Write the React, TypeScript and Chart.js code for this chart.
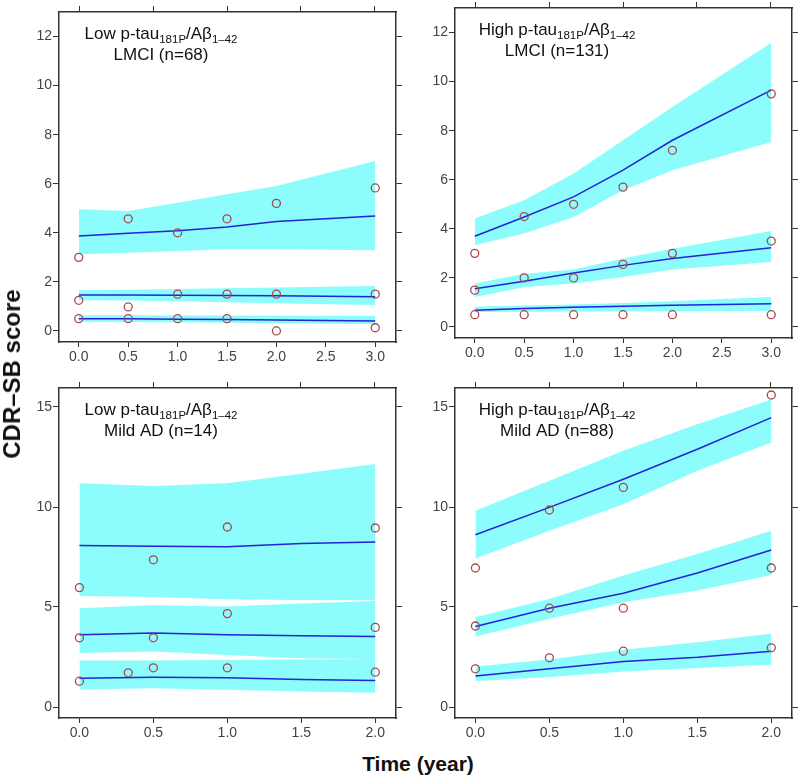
import React, { useEffect, useRef } from "react";
import { Chart, registerables } from "chart.js";
Chart.register(...registerables);

const FONT = '"Liberation Sans", Arial, sans-serif';
const CYAN = "#8cfcfc";
const LINE_COLOR = "#2424d4";
const POINT_COLOR = "#a84848";
const AXIS_COLOR = "#333333";

// Tick labels
const yTicksLMCI = [0, 2, 4, 6, 8, 10, 12];
const yTicksAD = [0, 5, 10, 15];
const xTicksLMCI = [0, 0.5, 1, 1.5, 2, 2.5, 3];
const xTicksAD = [0, 0.5, 1, 1.5, 2];
const topTicks = [0, 0.5, 1, 1.5, 2];

// Panel 1: Low p-tau / LMCI (n=68)
const p1Times = [0, 0.5, 1, 1.5, 2, 3];
const p1TopUp = [4.96, 4.89, 5.23, 5.57, 5.91, 6.93];
const p1TopLo = [3.13, 3.19, 3.26, 3.33, 3.33, 3.29];
const p1TopMid = [3.87, 3.98, 4.08, 4.24, 4.46, 4.69];
const p1MidUp = [1.66, 1.68, 1.71, 1.74, 1.77, 1.83];
const p1MidLo = [1.25, 1.24, 1.21, 1.17, 1.13, 1.06];
const p1MidMid = [1.47, 1.47, 1.46, 1.45, 1.43, 1.39];
const p1LowUp = [0.64, 0.64, 0.63, 0.63, 0.62, 0.61];
const p1LowLo = [0.38, 0.37, 0.35, 0.33, 0.31, 0.27];
const p1LowMid = [0.5, 0.5, 0.48, 0.47, 0.45, 0.41];
const p1ObsX = [0, 0, 0, 0.5, 0.5, 0.5, 1, 1, 1, 1.5, 1.5, 1.5, 2, 2, 2, 3, 3, 3];
const p1ObsY = [3.0, 1.25, 0.5, 4.57, 0.98, 0.5, 4.0, 1.5, 0.5, 4.57, 1.5, 0.5, 5.2, 1.5, 0.0, 5.83, 1.5, 0.13];

// Panel 2: High p-tau / LMCI (n=131)
const p2Times = [0, 0.5, 1, 1.5, 2, 3];
const p2TopUp = [4.42, 5.16, 6.25, 7.61, 8.97, 11.58];
const p2TopLo = [3.33, 3.81, 4.48, 5.57, 6.39, 7.54];
const p2TopMid = [3.7, 4.48, 5.3, 6.39, 7.61, 9.65];
const p2MidUp = [1.77, 2.17, 2.34, 2.79, 3.19, 3.91];
const p2MidLo = [1.22, 1.63, 1.77, 2.04, 2.34, 2.65];
const p2MidMid = [1.56, 1.86, 2.2, 2.51, 2.79, 3.23];
const p2LowUp = [0.82, 0.87, 0.92, 0.98, 1.05, 1.22];
const p2LowLo = [0.61, 0.62, 0.63, 0.63, 0.64, 0.65];
const p2LowMid = [0.68, 0.75, 0.8, 0.84, 0.88, 0.95];
const p2ObsX = [0, 0, 0, 0.5, 0.5, 0.5, 1, 1, 1, 1.5, 1.5, 1.5, 2, 2, 2, 3, 3, 3];
const p2ObsY = [3.0, 1.5, 0.5, 4.5, 2.0, 0.5, 5.0, 2.0, 0.5, 5.7, 2.55, 0.5, 7.2, 3.0, 0.5, 9.5, 3.5, 0.5];

// Panel 3: Low p-tau / Mild AD (n=14)
const p3Times = [0, 0.5, 1, 1.5, 2];
const p3TopUp = [11.19, 11.05, 11.19, 11.66, 12.15];
const p3TopLo = [5.55, 5.5, 5.39, 5.35, 5.34];
const p3TopMid = [8.07, 8.04, 8.01, 8.17, 8.25];
const p3MidUp = [4.94, 5.09, 5.02, 5.17, 5.3];
const p3MidLo = [2.7, 2.77, 2.6, 2.44, 2.4];
const p3MidMid = [3.61, 3.7, 3.61, 3.56, 3.53];
const p3LowUp = [2.32, 2.33, 2.35, 2.37, 2.4];
const p3LowLo = [0.88, 0.94, 0.86, 0.78, 0.71];
const p3LowMid = [1.44, 1.49, 1.46, 1.38, 1.33];
const p3ObsX = [0, 0, 0, 0.33, 0.5, 0.5, 0.5, 1, 1, 1, 2, 2, 2];
const p3ObsY = [5.97, 3.46, 1.29, 1.71, 7.36, 3.46, 1.96, 9.0, 4.67, 1.96, 8.95, 3.98, 1.74];

// Panel 4: High p-tau / Mild AD (n=88)
const p4Times = [0, 0.5, 1, 1.5, 2];
const p4TopUp = [9.81, 11.31, 12.81, 14.14, 15.38];
const p4TopLo = [7.43, 8.81, 10.14, 11.81, 13.22];
const p4TopMid = [8.61, 9.98, 11.39, 12.89, 14.47];
const p4MidUp = [4.49, 5.4, 6.57, 7.65, 8.81];
const p4MidLo = [3.53, 4.41, 5.24, 5.82, 6.6];
const p4MidMid = [4.02, 4.94, 5.69, 6.7, 7.85];
const p4LowUp = [2.03, 2.38, 2.86, 3.24, 3.66];
const p4LowLo = [1.3, 1.5, 1.78, 1.95, 2.11];
const p4LowMid = [1.55, 1.91, 2.28, 2.49, 2.79];
const p4ObsX = [0, 0, 0, 0.5, 0.5, 0.5, 1, 1, 1, 2, 2, 2];
const p4ObsY = [6.95, 4.05, 1.91, 9.85, 4.94, 2.46, 10.98, 4.94, 2.79, 15.6, 6.95, 2.96];

type PanelDef = {
  left: number;
  top: number;
  group: string;
  subtitle: string;
  times: number[];
  bands: number[][][]; // [up, lo, mid]
  obsX: number[];
  obsY: number[];
  xMin: number;
  xMax: number;
  xTicks: number[];
  yMin: number;
  yMax: number;
  yTicks: number[];
};

const panels: PanelDef[] = [
  {
    left: 14, top: 0, group: "Low", subtitle: "LMCI (n=68)", times: p1Times,
    bands: [[p1TopUp, p1TopLo, p1TopMid], [p1MidUp, p1MidLo, p1MidMid], [p1LowUp, p1LowLo, p1LowMid]],
    obsX: p1ObsX, obsY: p1ObsY, xMin: -0.2, xMax: 3.21, xTicks: xTicksLMCI, yMin: -0.45, yMax: 13.0, yTicks: yTicksLMCI,
  },
  {
    left: 410, top: -4, group: "High", subtitle: "LMCI (n=131)", times: p2Times,
    bands: [[p2TopUp, p2TopLo, p2TopMid], [p2MidUp, p2MidLo, p2MidMid], [p2LowUp, p2LowLo, p2LowMid]],
    obsX: p2ObsX, obsY: p2ObsY, xMin: -0.2, xMax: 3.21, xTicks: xTicksLMCI, yMin: -0.45, yMax: 13.0, yTicks: yTicksLMCI,
  },
  {
    left: 14, top: 376, group: "Low", subtitle: "Mild AD (n=14)", times: p3Times,
    bands: [[p3TopUp, p3TopLo, p3TopMid], [p3MidUp, p3MidLo, p3MidMid], [p3LowUp, p3LowLo, p3LowMid]],
    obsX: p3ObsX, obsY: p3ObsY, xMin: -0.138, xMax: 2.14, xTicks: xTicksAD, yMin: -0.55, yMax: 15.95, yTicks: yTicksAD,
  },
  {
    left: 410, top: 376, group: "High", subtitle: "Mild AD (n=88)", times: p4Times,
    bands: [[p4TopUp, p4TopLo, p4TopMid], [p4MidUp, p4MidLo, p4MidMid], [p4LowUp, p4LowLo, p4LowMid]],
    obsX: p4ObsX, obsY: p4ObsY, xMin: -0.138, xMax: 2.14, xTicks: xTicksAD, yMin: -0.55, yMax: 15.95, yTicks: yTicksAD,
  },
];

const CANVAS_W = 390;
const CANVAS_H = 372;
const AX_LEFT = 45;
const AX_RIGHT = 8;
const AX_TOP = 12;
const AX_BOTTOM = 30;

function Panel({ p }: { p: PanelDef }) {
  const ref = useRef<HTMLCanvasElement | null>(null);
  useEffect(() => {
    if (!ref.current) return;
    const xy = (xs: number[], ys: number[]) => xs.map((x, i) => ({ x, y: ys[i] }));
    const datasets: any[] = [];
    p.bands.forEach(([up, lo]) => {
      datasets.push({
        data: xy(p.times, up), borderWidth: 0, borderColor: "transparent", pointRadius: 0,
        backgroundColor: CYAN, fill: "+1", tension: 0, order: 3,
      });
      datasets.push({
        data: xy(p.times, lo), borderWidth: 0, borderColor: "transparent", pointRadius: 0,
        fill: false, tension: 0, order: 3,
      });
    });
    p.bands.forEach(([, , mid]) => {
      datasets.push({
        data: xy(p.times, mid), borderWidth: 1.5, borderColor: LINE_COLOR, pointRadius: 0,
        fill: false, tension: 0, order: 2,
      });
    });
    datasets.push({
      data: xy(p.obsX, p.obsY), showLine: false, pointRadius: 4, pointBorderWidth: 1.3,
      pointBorderColor: POINT_COLOR, pointBackgroundColor: "rgba(0,0,0,0)", borderColor: POINT_COLOR,
      backgroundColor: "rgba(0,0,0,0)", fill: false, order: 1,
    });

    const grid = { drawOnChartArea: false, drawTicks: true, tickLength: 6, color: AXIS_COLOR, lineWidth: 1 };
    const border = { display: true, color: AXIS_COLOR, width: 1.5 };
    const tickFont = { family: FONT, size: 14 };

    const titlePlugin = {
      id: "panelTitle",
      afterDraw(chart: any) {
        const { ctx, chartArea } = chart;
        const cx = chartArea.left + 102;
        const big = `17px ${FONT}`;
        const small = `11.5px ${FONT}`;
        const parts: [string, boolean][] = [
          [`${p.group} p-tau`, false],
          ["181P", true],
          ["/Aβ", false],
          ["1–42", true],
        ];
        ctx.save();
        ctx.fillStyle = "#111";
        ctx.textBaseline = "alphabetic";
        ctx.textAlign = "left";
        let total = 0;
        parts.forEach(([t, sub]) => {
          ctx.font = sub ? small : big;
          total += ctx.measureText(t).width;
        });
        let x = cx - total / 2;
        const y1 = chartArea.top + 27;
        parts.forEach(([t, sub]) => {
          ctx.font = sub ? small : big;
          ctx.fillText(t, x, sub ? y1 + 4 : y1);
          x += ctx.measureText(t).width;
        });
        ctx.font = big;
        ctx.textAlign = "center";
        ctx.fillText(p.subtitle, cx, chartArea.top + 48);
        ctx.restore();
      },
    };

    const chart = new Chart(ref.current, {
      type: "line",
      data: { datasets },
      options: {
        responsive: false,
        animation: false,
        devicePixelRatio: 1,
        parsing: true,
        layout: { padding: 0 },
        plugins: {
          legend: { display: false },
          tooltip: { enabled: false },
          title: { display: false },
          filler: { drawTime: "beforeDatasetsDraw" },
        },
        scales: {
          x: {
            type: "linear", position: "bottom", min: p.xMin, max: p.xMax,
            afterBuildTicks: (s: any) => { s.ticks = p.xTicks.map((v) => ({ value: v })); },
            afterFit: (s: any) => { s.height = AX_BOTTOM; },
            grid: { ...grid, tickLength: 5 }, border,
            ticks: { font: tickFont, color: "#444", padding: 2, maxRotation: 0, autoSkip: false, callback: (v: any) => Number(v).toFixed(1) },
          },
          x2: {
            type: "linear", position: "top", min: -0.14, max: 2.145,
            afterBuildTicks: (s: any) => { s.ticks = topTicks.map((v) => ({ value: v })); },
            afterFit: (s: any) => { s.height = AX_TOP; },
            grid, border, ticks: { display: false },
          },
          y: {
            type: "linear", position: "left", min: p.yMin, max: p.yMax,
            afterBuildTicks: (s: any) => { s.ticks = p.yTicks.map((v) => ({ value: v })); },
            afterFit: (s: any) => { s.width = AX_LEFT; },
            grid, border,
            ticks: { font: tickFont, color: "#444", padding: 1, autoSkip: false, callback: (v: any) => String(v) },
          },
          y2: {
            type: "linear", position: "right", min: p.yMin, max: p.yMax,
            afterBuildTicks: (s: any) => { s.ticks = p.yTicks.map((v) => ({ value: v })); },
            afterFit: (s: any) => { s.width = AX_RIGHT; },
            grid, border, ticks: { display: false },
          },
        },
      } as any,
      plugins: [titlePlugin],
    });
    return () => chart.destroy();
  }, [p]);
  return (
    <canvas
      ref={ref}
      width={CANVAS_W}
      height={CANVAS_H}
      style={{ position: "absolute", left: p.left, top: p.top, width: CANVAS_W, height: CANVAS_H }}
    />
  );
}

export default function App() {
  return (
    <div style={{ position: "absolute", left: 0, top: 0, width: 800, height: 780, background: "#fff", overflow: "hidden" }}>
      {panels.map((p, i) => (
        <Panel key={i} p={p} />
      ))}
      <div
        style={{
          position: "absolute", left: 12, top: 374, transform: "translate(-50%, -50%) rotate(-90deg)",
          fontFamily: FONT, fontWeight: "bold", fontSize: 24, color: "#111", whiteSpace: "nowrap",
        }}
      >
        CDR–SB score
      </div>
      <div
        style={{
          position: "absolute", left: 418, top: 764, transform: "translate(-50%, -50%)",
          fontFamily: FONT, fontWeight: "bold", fontSize: 21, color: "#111", whiteSpace: "nowrap",
        }}
      >
        Time (year)
      </div>
    </div>
  );
}
